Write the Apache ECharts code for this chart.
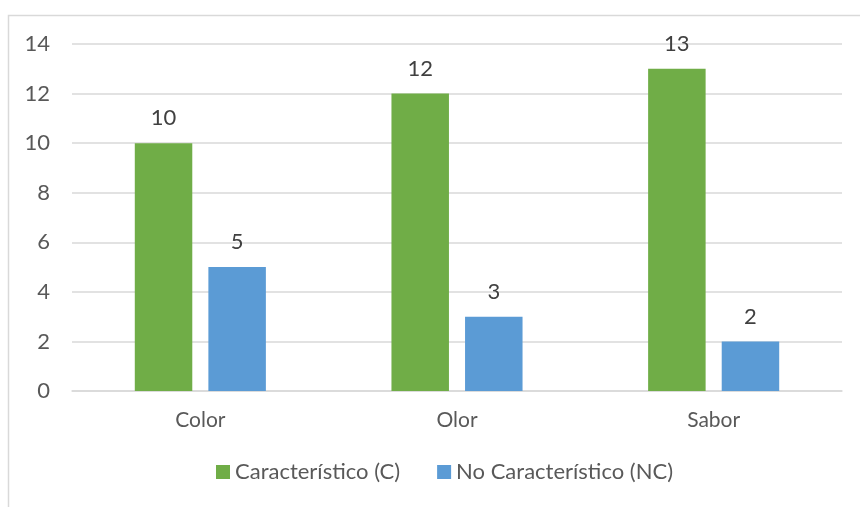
<!DOCTYPE html>
<html><head><meta charset="utf-8">
<script src="https://cdn.jsdelivr.net/npm/echarts@6/dist/echarts.min.js"></script>
<style>html,body{margin:0;padding:0;background:#fff}#c{width:860px;height:507px}</style>
</head><body><div id="c"></div>
<script>
var categories = ['Color', 'Olor', 'Sabor'];
var seriesNames = ['Característico (C)', 'No Característico (NC)'];
var valuesC = [10, 12, 13];
var valuesNC = [5, 3, 2];
var yTicks = [0, 2, 4, 6, 8, 10, 12, 14];

var FONT = 'Lato';
var chart = echarts.init(document.getElementById('c'), null, {renderer: 'canvas'});
chart.setOption({
  animation: false,
  textStyle: {fontFamily: FONT},
  graphic: [{type: 'rect', shape: {x: 8.5, y: 15.5, width: 900, height: 600}, style: {fill: 'none', stroke: '#D9D9D9', lineWidth: 1.5}, silent: true}],
  grid: {left: 72, right: 18, top: 44, bottom: 116, containLabel: false},
  legend: {
    top: 461, left: 216, itemWidth: 14, itemHeight: 14, itemGap: 37,
    icon: 'rect', padding: 0,
    textStyle: {fontFamily: FONT, fontSize: 22, color: '#595959'},
    data: seriesNames
  },
  xAxis: {
    type: 'category', data: categories,
    axisLine: {lineStyle: {color: '#D9D9D9', width: 1.5}},
    axisTick: {show: false},
    axisLabel: {color: '#595959', fontSize: 21, fontFamily: FONT, margin: 19}
  },
  yAxis: {
    type: 'value', min: yTicks[0], max: yTicks[yTicks.length - 1], interval: 2,
    axisLine: {show: false}, axisTick: {show: false},
    splitLine: {lineStyle: {color: '#D9D9D9', width: 1.5}},
    axisLabel: {color: '#595959', fontSize: 22, fontFamily: FONT, margin: 22}
  },
  series: [
    {name: seriesNames[0], type: 'bar', data: valuesC, barWidth: '22.4%', barGap: '28%',
     itemStyle: {color: '#70AD47'},
     label: {show: true, position: 'top', distance: 14, color: '#404040', fontSize: 22, fontFamily: FONT}},
    {name: seriesNames[1], type: 'bar', data: valuesNC, barWidth: '22.4%',
     itemStyle: {color: '#5B9BD5'},
     label: {show: true, position: 'top', distance: 14, color: '#404040', fontSize: 22, fontFamily: FONT}}
  ]
});
</script></body></html>
